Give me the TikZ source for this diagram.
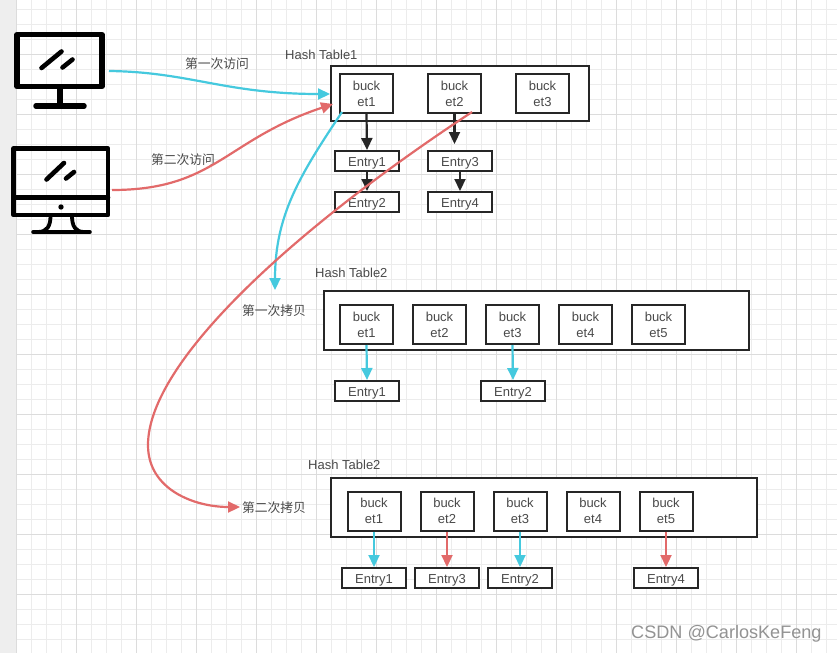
\documentclass[tikz,border=0pt]{standalone}
\usepackage{fontspec}
\setmainfont{Liberation Sans}
\newfontfamily\cjk{Noto Sans CJK SC}
\usetikzlibrary{arrows.meta}
\definecolor{ink}{HTML}{262626}
\definecolor{txt}{HTML}{4A4A4A}
\definecolor{cy}{HTML}{45C9DE}
\definecolor{rd}{HTML}{E26A6A}
\definecolor{gmin}{HTML}{ECECEC}
\definecolor{gmaj}{HTML}{DCDCDC}
\tikzset{
 x=1pt,y=-1pt,
 tablebox/.style={draw=ink,line width=2pt,fill=white,anchor=north west,inner sep=0pt,outer sep=0pt},
 bucketbox/.style={draw=ink,line width=2pt,fill=white,minimum width=53pt,minimum height=39pt,inner sep=0pt,align=center,text=txt,font=\fontsize{13}{16}\selectfont},
 entrybox/.style={draw=ink,line width=2pt,fill=white,minimum width=64pt,minimum height=20pt,inner sep=0pt,text height=10pt,text depth=0pt,text=txt,font=\fontsize{13}{16}\selectfont},
 lab/.style={text=txt,inner sep=0pt,font=\fontsize{13}{16}\selectfont},
 cjklab/.style={text=txt,inner sep=0pt,font=\cjk\fontsize{12.8}{16}\selectfont},
 tip/.style={-{Triangle[length=12pt,width=11pt]}},
 blk/.style={tip,draw=ink,line width=2.2pt},
 cyl/.style={tip,draw=cy,line width=2.2pt},
 rdl/.style={tip,draw=rd,line width=2.2pt},
 mon/.style={draw=black,line width=4.6pt,line cap=round,line join=round},
}
\begin{document}
\begin{tikzpicture}
\useasboundingbox (0,0) rectangle (837,653);
\fill[white] (0,0) rectangle (837,653);
\fill[gmin!90!white] (0,0) rectangle (16,653);
% grid
\foreach \i in {0,...,55} \draw[gmin,line width=.9pt] ({16.7+15*\i},0) -- ({16.7+15*\i},653);
\foreach \i in {0,...,43} \draw[gmin,line width=.9pt] (16,{9+15*\i}) -- (837,{9+15*\i});
\foreach \i in {0,...,13} \draw[gmaj,line width=.9pt] ({16.7+60*\i},0) -- ({16.7+60*\i},653);
\foreach \i in {0,...,10} \draw[gmaj,line width=.9pt] (16,{54+60*\i}) -- (837,{54+60*\i});
% monitor 1
\draw[mon,line width=5.5pt] (17,34.7) rectangle (102,86.5);
\draw[mon] (41.5,68) -- (61.5,51.5);
\draw[mon] (62.5,67.5) -- (72.5,59.5);
\draw[mon,line width=5.5pt] (60,87) -- (60,106);
\draw[mon,line width=5.5pt] (36,106) -- (84,106);
% monitor 2
\draw[mon] (13.5,148.5) rectangle (108,215);
\draw[mon] (13.5,197.5) -- (108,197.5);
\fill[black] (61,207) circle (2.7pt);
\draw[mon] (46.5,179.5) -- (64,163);
\draw[mon] (66,178.5) -- (74,172);
\draw[mon,line width=3.8pt,line cap=butt] (50.5,216) .. controls (50.5,226) and (47,232) .. (38,232);
\draw[mon,line width=3.8pt,line cap=butt] (72,216) .. controls (72,226) and (75.5,232) .. (84,232);
\draw[mon] (33.5,232) -- (89.5,232);
% tables
\node[tablebox,minimum width=258pt,minimum height=55pt] (t1) at (331,66) {};
\node[tablebox,minimum width=425pt,minimum height=59pt] (t2) at (324,291) {};
\node[tablebox,minimum width=426pt,minimum height=59pt] (t3) at (331,478) {};
\node[lab,anchor=west] (t1l) at (285,55) {Hash Table1};
\node[lab,anchor=west] (t2l) at (315,273) {Hash Table2};
\node[lab,anchor=west] (t3l) at (308,465) {Hash Table2};
% table 1
\node[bucketbox] (a1) at (366.5,93.5) {buck\\et1};
\node[bucketbox] (a2) at (454.5,93.5) {buck\\et2};
\node[bucketbox] (a3) at (542.5,93.5) {buck\\et3};
\node[entrybox] (e1) at (367,161) {Entry1};
\node[entrybox] (e2) at (367,202) {Entry2};
\node[entrybox] (e3) at (460,161) {Entry3};
\node[entrybox] (e4) at (460,202) {Entry4};
\coordinate (a2t) at (454.5,144);
\draw[blk] (a1.south) -- (e1.north);
\draw[blk] (a2.south) -- (a2t);
\draw[blk] (e1.south) -- (e2.north);
\draw[blk] (e3.south) -- (e4.north);
% table 2
\node[bucketbox] (b1) at (366.5,324.5) {buck\\et1};
\node[bucketbox] (b2) at (439.5,324.5) {buck\\et2};
\node[bucketbox] (b3) at (512.5,324.5) {buck\\et3};
\node[bucketbox] (b4) at (585.5,324.5) {buck\\et4};
\node[bucketbox] (b5) at (658.5,324.5) {buck\\et5};
\node[entrybox] (f1) at (367,391) {Entry1};
\node[entrybox] (f2) at (513,391) {Entry2};
\draw[cyl] (b1.south) -- (f1.north);
\draw[cyl] (b3.south) -- (f2.north);
% table 3
\node[bucketbox] (c1) at (374,511) {buck\\et1};
\node[bucketbox] (c2) at (447,511) {buck\\et2};
\node[bucketbox] (c3) at (520,511) {buck\\et3};
\node[bucketbox] (c4) at (593,511) {buck\\et4};
\node[bucketbox] (c5) at (666,511) {buck\\et5};
\node[entrybox] (g1) at (374,578) {Entry1};
\node[entrybox] (g2) at (447,578) {Entry3};
\node[entrybox] (g3) at (520,578) {Entry2};
\node[entrybox] (g4) at (666,578) {Entry4};
\draw[cyl] (c1.south) -- (g1.north);
\draw[rdl] (c2.south) -- (g2.north);
\draw[cyl] (c3.south) -- (g3.north);
\draw[rdl] (c5.south) -- (g4.north);
% labels
\node[cjklab] (l1) at (217,64) {第一次访问};
\node[cjklab] (l2) at (183,160) {第二次访问};
\node[cjklab] (l3) at (274,311) {第一次拷贝};
\node[cjklab] (l4) at (274,508) {第二次拷贝};
% curves
\coordinate (m1) at (109,71);
\coordinate (m2) at (112,190);
\coordinate (h1) at (330,94);
\coordinate (h2) at (333,104);
\coordinate (s1) at (342,112);
\coordinate (s2) at (472,112);
\coordinate (d1) at (275,290);
\coordinate (d2) at (240,507);
\draw[cyl] (m1) .. controls (190,72) and (225,94) .. (h1);
\draw[rdl] (m2) .. controls (215,190) and (225,140) .. (h2);
\draw[cyl] (s1) .. controls (300,175) and (275,215) .. (d1);
\draw[rdl] (s2) .. controls (300,225) and (148,360) .. (148,445) .. controls (148,490) and (195,507) .. (d2);
\node[anchor=west,inner sep=0pt,text=gray!85,font=\fontsize{18.1}{20}\selectfont] (wm) at (631,634) {CSDN @CarlosKeFeng};
\end{tikzpicture}
\end{document}
